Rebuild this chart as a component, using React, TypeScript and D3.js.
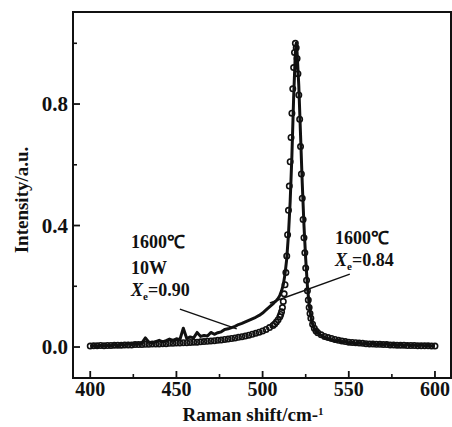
import React from "react";
import * as d3 from "d3";

// ---- data: "1600℃ 10W Xe=0.90" (noisy line) ----
const lineX = [400,402,404,406,408,410,412,414,416,418,420,422,424,426,428,430,432,434,436,438,440,442,444,446,448,450,452,454,456,458,460,462,464,466,468,470,472,474,476,478,480,482,484,486,488,490,492,494,496,498,500,502,504,506,507,508,509,510,511,512,513,514,515,516,517,518,519,519.5,520,521,522,523,524,525,526,527,528,529,530,532,534,536,538,540,542,544,546,548,550,552,554,556,558,560,562,564,566,568,570,572,574,576,578,580,582,584,586,588,590,592,594,596,598,600];
const lineY = [0.002,0.004,0.001,0.005,0.003,0.006,0.004,0.008,0.005,0.009,0.007,0.012,0.008,0.011,0.010,0.014,0.030,0.016,0.013,0.018,0.022,0.017,0.021,0.026,0.022,0.027,0.024,0.062,0.028,0.033,0.030,0.048,0.035,0.038,0.036,0.048,0.042,0.047,0.050,0.058,0.060,0.064,0.068,0.074,0.078,0.083,0.088,0.093,0.098,0.104,0.112,0.122,0.132,0.142,0.148,0.153,0.160,0.170,0.185,0.205,0.240,0.290,0.370,0.480,0.630,0.820,0.970,1.000,0.970,0.860,0.700,0.540,0.400,0.290,0.200,0.140,0.100,0.075,0.060,0.046,0.038,0.031,0.027,0.024,0.019,0.022,0.016,0.018,0.013,0.015,0.011,0.014,0.010,0.012,0.009,0.013,0.008,0.010,0.007,0.011,0.006,0.009,0.006,0.008,0.005,0.009,0.005,0.007,0.004,0.008,0.004,0.006,0.003,0.004];

// ---- data: "1600℃ Xe=0.84" (open circles) ----
const circX = [400,402,404,406,408,410,412,414,416,418,420,422,424,426,428,430,432,434,436,438,440,442,444,446,448,450,452,454,456,458,460,462,464,466,468,470,472,474,476,478,480,482,484,486,488,490,492,494,496,498,500,502,504,506,507,508,509,510,510.5,511,511.5,512,512.5,513,513.5,514,514.5,515,515.5,516,516.5,517,517.5,518,518.5,519,519.5,520,520.5,521,521.5,522,522.5,523,523.5,524,524.5,525,525.5,526,526.5,527,527.5,528,529,530,531,532,534,536,538,540,542,544,546,548,550,552,554,556,558,560,562,564,566,568,570,572,574,576,578,580,582,584,586,588,590,592,594,596,598,600];
const circY = [0.003,0.004,0.004,0.005,0.004,0.005,0.005,0.006,0.006,0.006,0.007,0.007,0.007,0.008,0.008,0.008,0.009,0.009,0.010,0.010,0.010,0.011,0.011,0.012,0.012,0.013,0.013,0.014,0.014,0.015,0.016,0.016,0.017,0.018,0.019,0.020,0.021,0.022,0.023,0.025,0.026,0.028,0.030,0.032,0.034,0.036,0.039,0.042,0.045,0.049,0.053,0.058,0.064,0.071,0.076,0.082,0.090,0.100,0.107,0.116,0.130,0.150,0.175,0.205,0.245,0.300,0.370,0.450,0.530,0.610,0.690,0.770,0.850,0.920,0.970,1.000,0.985,0.950,0.900,0.830,0.750,0.660,0.570,0.490,0.420,0.360,0.310,0.260,0.220,0.185,0.155,0.130,0.110,0.095,0.075,0.062,0.053,0.047,0.040,0.035,0.031,0.028,0.025,0.022,0.020,0.018,0.016,0.015,0.014,0.013,0.012,0.011,0.010,0.010,0.009,0.009,0.008,0.008,0.007,0.007,0.006,0.006,0.006,0.005,0.005,0.005,0.004,0.004,0.004,0.004,0.003,0.003];

const xMajor = [400, 450, 500, 550, 600];
const xMinor = [425, 475, 525, 575];
const yMajor = [0.0, 0.4, 0.8];
const yMinor = [0.2, 0.6, 1.0];
const xTitle = "Raman shift/cm-";
const yTitle = "Intensity/a.u.";

const FONT = "'Liberation Serif', 'Times New Roman', serif";

export default function App() {
  const W = 452, H = 427;
  const L = 73, R = 451, T = 12, B = 378;
  const x = d3.scaleLinear().domain([390, 609.3]).range([L, R]);
  const y = d3.scaleLinear().domain([-0.102, 1.103]).range([B, T]);

  const lineData = lineX.map((v, i) => [v, lineY[i]] as [number, number]);
  const circData = circX.map((v, i) => [v, circY[i]] as [number, number]);
  const lineGen = d3.line<[number, number]>().x(d => x(d[0])).y(d => y(d[1]));
  const linePath = lineGen(lineData) || "";

  const txt = { fontFamily: FONT, fontWeight: 700, fill: "#111" } as const;

  return (
    <svg width={W} height={H} style={{ position: "absolute", left: 0, top: 0, background: "#fff" }}>
      <rect x={0} y={0} width={W} height={H} fill="#fff" />
      {/* noisy line series */}
      <path d={linePath} fill="none" stroke="#111" strokeWidth={3} strokeLinejoin="round" />
      {/* circles series */}
      {circData.map((d, i) => (
        <circle key={i} cx={x(d[0])} cy={y(d[1])} r={2.7} fill="none" stroke="#111" strokeWidth={1.6} />
      ))}

      {/* leader lines */}
      <line x1={x(452)} y1={y(0.125)} x2={x(485)} y2={y(0.06)} stroke="#111" strokeWidth={1.4} />
      <line x1={x(550.6)} y1={y(0.24)} x2={x(504.2)} y2={y(0.145)} stroke="#111" strokeWidth={1.4} />

      {/* frame */}
      <rect x={L} y={T} width={R - L} height={B - T} fill="none" stroke="#111" strokeWidth={2} />

      {/* x ticks */}
      {xMajor.map(t => (
        <g key={"xm" + t}>
          <line x1={x(t)} x2={x(t)} y1={B} y2={B - 7} stroke="#111" strokeWidth={1.8} />
          <text x={x(t)} y={396} textAnchor="middle" fontSize={20} {...txt}>{t}</text>
        </g>
      ))}
      {xMinor.map(t => (
        <line key={"xn" + t} x1={x(t)} x2={x(t)} y1={B} y2={B - 4} stroke="#111" strokeWidth={1.6} />
      ))}
      {/* y ticks */}
      {yMajor.map(t => (
        <g key={"ym" + t}>
          <line x1={L} x2={L + 7} y1={y(t)} y2={y(t)} stroke="#111" strokeWidth={1.8} />
          <text x={68} y={y(t) + 7} textAnchor="end" fontSize={21} {...txt}>{t.toFixed(1)}</text>
        </g>
      ))}
      {yMinor.map(t => (
        <line key={"yn" + t} x1={L} x2={L + 4} y1={y(t)} y2={y(t)} stroke="#111" strokeWidth={1.6} />
      ))}

      {/* axis titles */}
      <text x={253} y={421} textAnchor="middle" fontSize={19} {...txt}>
        {xTitle}<tspan fontSize={11} dy={-6}>1</tspan>
      </text>
      <text transform="translate(28,200) rotate(-90)" textAnchor="middle" fontSize={19} {...txt}>{yTitle}</text>

      {/* annotations */}
      <text x={131} y={248} fontSize={18} {...txt}>1600℃</text>
      <text x={131} y={274} fontSize={18} {...txt}>10W</text>
      <text x={131} y={296} fontSize={18} {...txt}>
        <tspan fontStyle="italic">X</tspan><tspan fontSize={11} dy={4}>e</tspan><tspan dy={-4}>=0.90</tspan>
      </text>
      <text x={335} y={244} fontSize={18} {...txt}>1600℃</text>
      <text x={335} y={266} fontSize={18} {...txt}>
        <tspan fontStyle="italic">X</tspan><tspan fontSize={11} dy={4}>e</tspan><tspan dy={-4}>=0.84</tspan>
      </text>
    </svg>
  );
}
